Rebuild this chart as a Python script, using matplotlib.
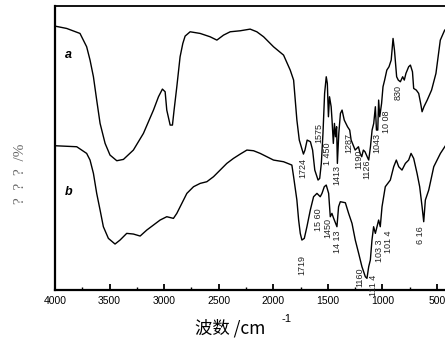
import matplotlib
matplotlib.use("Agg")
import matplotlib.pyplot as plt
from matplotlib.ticker import MultipleLocator

plt.rcParams['font.family'] = ['Liberation Sans', 'Noto Sans CJK SC', 'DejaVu Sans']

# curve a: wavenumber (cm-1) and transmittance (arb. units)
wn_a = [4000, 3893, 3771, 3710, 3679, 3648, 3618, 3587, 3541, 3496, 3434, 3373, 3282, 3190,
        3098, 3052, 3016, 2991, 2976, 2945, 2924, 2909, 2884, 2854, 2829, 2808, 2762, 2670,
        2579, 2517, 2456, 2395, 2303, 2212, 2151, 2089, 1998, 1906, 1845, 1814, 1799, 1784,
        1762, 1724, 1710, 1690, 1660, 1640, 1620, 1590, 1575, 1560, 1545, 1530, 1515, 1505,
        1495, 1485, 1470, 1462, 1450, 1440, 1430, 1420, 1413, 1400, 1385, 1370, 1350, 1320,
        1300, 1287, 1250, 1220, 1205, 1190, 1175, 1160, 1140, 1126, 1110, 1095, 1080, 1065,
        1055, 1043, 1035, 1025, 1008, 995, 980, 960, 940, 920, 903, 890, 870, 855, 836, 815,
        800, 785, 760, 744, 725, 714, 690, 668, 650, 637, 620, 590, 550, 510, 470, 430]
t_a = [79.2, 78.5, 77.0, 73.0, 69.0, 64.0, 57.0, 50.0, 44.0, 40.5, 38.8, 39.2, 42.0, 47.0,
       54.0, 58.0, 60.3, 59.5, 54.0, 49.5, 49.5, 54.0, 61.0, 70.0, 74.0, 76.2, 77.5, 77.0,
       76.0, 75.0, 76.5, 77.5, 77.8, 78.3, 77.5, 76.0, 73.0, 70.5, 66.0, 63.0, 57.0, 51.0,
       45.0, 40.8, 42.0, 45.0, 44.5, 42.0, 36.0, 33.0, 33.5, 38.0, 47.0, 59.0, 64.0, 62.0,
       52.0, 58.0, 55.0, 51.0, 44.0, 50.0, 46.0, 49.0, 38.0, 47.0, 53.0, 54.0, 51.0, 49.0,
       48.0, 45.0, 42.0, 43.0, 41.0, 40.0, 42.0, 41.5, 40.0, 39.0, 43.0, 48.0, 50.0, 55.0,
       48.0, 48.0, 57.0, 52.0, 56.0, 61.0, 63.0, 66.0, 67.0, 69.0, 75.5, 72.0, 64.0, 63.0,
       62.5, 64.0, 63.0, 65.0, 67.0, 67.5, 65.5, 60.5, 60.0, 59.0, 56.0, 53.5, 55.0, 57.0,
       60.0, 65.0, 75.0, 78.0]

# curve b
wn_b = [4000, 3801, 3710, 3679, 3648, 3618, 3587, 3557, 3511, 3450, 3404, 3343, 3282, 3220,
        3159, 3098, 3037, 2976, 2915, 2884, 2838, 2792, 2731, 2670, 2609, 2548, 2487, 2426,
        2365, 2303, 2242, 2181, 2120, 2059, 1998, 1906, 1830, 1814, 1784, 1768, 1753, 1738,
        1716, 1692, 1661, 1631, 1600, 1570, 1554, 1533, 1515, 1493, 1478, 1463, 1447, 1417,
        1402, 1386, 1340, 1310, 1279, 1249, 1218, 1188, 1157, 1142, 1126, 1111, 1096, 1081,
        1065, 1050, 1035, 1020, 1004, 974, 928, 897, 873, 851, 821, 790, 760, 738, 714, 683,
        659, 637, 622, 607, 576, 530, 469, 423]
t_b = [43.3, 43.0, 41.0, 39.0, 35.0, 29.0, 24.0, 19.0, 15.5, 13.8, 15.0, 17.0, 16.8, 16.2,
       18.0, 19.5, 21.0, 22.0, 21.5, 23.0, 26.0, 29.0, 31.0, 32.0, 32.5, 34.0, 36.0, 38.0,
       39.5, 40.8, 42.0, 41.8, 41.0, 40.0, 39.0, 38.5, 37.5, 34.0, 27.0, 21.0, 17.0, 15.0,
       15.5, 19.0, 24.0, 28.0, 29.0, 28.0, 29.0, 31.0, 31.5, 29.0, 22.0, 23.0, 21.5, 19.0,
       25.0, 26.5, 26.2, 23.0, 20.0, 15.0, 11.0, 7.0, 4.0, 3.5, 7.0, 9.0, 15.0, 19.0,
       17.0, 19.0, 21.0, 19.0, 25.0, 31.0, 33.0, 37.0, 39.0, 37.0, 36.0, 38.0, 39.0, 41.0,
       39.5, 35.0, 31.0, 25.0, 20.5, 27.0, 30.0, 37.0, 41.0, 43.3]

# peak labels: text, wavenumber, top of the label
peaks_a = [("1724", 1726, 39.6), ("1575", 1579, 50.1), ("1 450", 1506, 44.4),
           ("1413", 1417, 37.5), ("1287", 1304, 47.1), ("1190", 1212, 42.0),
           ("1126", 1139, 39.3), ("1043", 1047, 47.1), ("10 08", 965, 54.0),
           ("830", 852, 61.5)]
peaks_b = [("1719", 1738, 10.5), ("15 60", 1585, 24.5), ("1450", 1500, 21.5),
           ("14 13", 1411, 18.0), ("1160", 1203, 6.9), ("111 4", 1084, 4.5),
           ("103 3", 1029, 15.3), ("101 4", 946, 18.0), ("6 16", 647, 19.0)]

fig = plt.figure(figsize=(4.45, 3.4), dpi=100)
ax = fig.add_axes([0.1236, 0.147, 0.8764, 0.835])

ax.plot(wn_a, t_a, color='black', lw=1.0)
ax.plot(wn_b, t_b, color='black', lw=1.0)

for txt, x, y in peaks_a + peaks_b:
    ax.text(x, y, txt, rotation=90, ha='center', va='top', fontsize=6.5, color='#222222')

ax.text(3878, 70.5, 'a', fontsize=9, fontweight='bold', style='italic', ha='center', va='center')
ax.text(3878, 29.5, 'b', fontsize=9, fontweight='bold', style='italic', ha='center', va='center')

ax.set_xlim(4000, 427)
ax.set_ylim(0, 85.2)
ax.xaxis.set_major_locator(MultipleLocator(500))
ax.xaxis.set_minor_locator(MultipleLocator(250))
ax.set_yticks([])
ax.tick_params(axis='x', which='major', direction='in', length=4, width=1.3, labelsize=7.5, pad=4)
ax.tick_params(axis='x', which='minor', direction='in', length=2, width=1.0)
ax.spines['right'].set_visible(False)
for s in ['left', 'bottom']:
    ax.spines[s].set_linewidth(1.6)
ax.spines['top'].set_linewidth(1.3)

fig.text(0.517, 0.008, '波数 /cm', fontsize=12.5, ha='center', va='bottom',
         family=['Noto Sans CJK SC', 'DejaVu Sans'])
fig.text(0.632, 0.046, '-1', fontsize=8, ha='left', va='bottom')
fig.text(0.045, 0.488, '?  ?  ?  /%', fontsize=11, rotation=90, ha='center', va='center',
         color='#666666', family=['Liberation Serif'])

fig.savefig('out.png', dpi=100)
